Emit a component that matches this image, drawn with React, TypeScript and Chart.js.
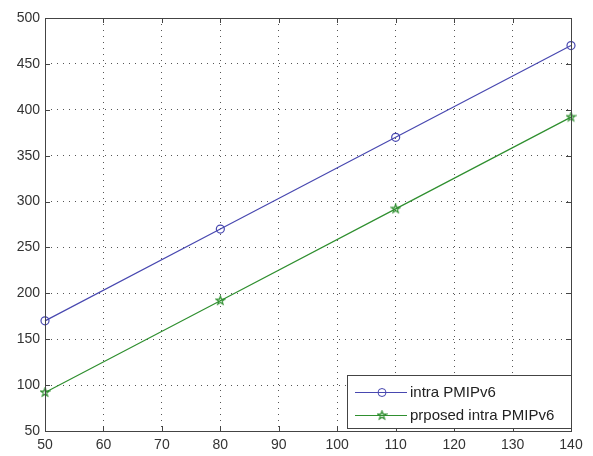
import React, { useEffect, useRef } from "react";
import { Chart, registerables } from "chart.js";

Chart.register(...registerables);

const xValues = [50, 80, 110, 140];
const intraPMIPv6 = [170, 270, 370, 470];
const proposedIntraPMIPv6 = [92, 192, 292, 392];
const seriesLabels = ["intra PMIPv6", "prposed intra PMIPv6"];
const blue = "#4848b0";
const green = "#2f8f2f";
const FONT = "Liberation Sans, Arial, sans-serif";

function makeStar(color: string, size: number): HTMLCanvasElement {
  const c = document.createElement("canvas");
  c.width = size;
  c.height = size;
  const ctx = c.getContext("2d")!;
  const cx = size / 2, cy = size / 2;
  const R = size / 2 - 1, r = R * 0.4;
  ctx.beginPath();
  for (let i = 0; i < 10; i++) {
    const ang = -Math.PI / 2 + (i * Math.PI) / 5;
    const rad = i % 2 === 0 ? R : r;
    const px = cx + rad * Math.cos(ang), py = cy + rad * Math.sin(ang);
    if (i === 0) ctx.moveTo(px, py);
    else ctx.lineTo(px, py);
  }
  ctx.closePath();
  ctx.strokeStyle = color;
  ctx.lineWidth = 1.2;
  ctx.stroke();
  return c;
}

export default function App() {
  const ref = useRef<HTMLCanvasElement | null>(null);
  useEffect(() => {
    const star = makeStar(green, 11);
    const framePlugin = {
      id: "frame",
      afterDraw(chart: any) {
        const { ctx, chartArea: a, scales } = chart;
        ctx.save();
        ctx.strokeStyle = "#444";
        ctx.lineWidth = 1;
        ctx.setLineDash([]);
        ctx.strokeRect(Math.round(a.left) + 0.5, Math.round(a.top) + 0.5, Math.round(a.right - a.left), Math.round(a.bottom - a.top));
        const tl = 5;
        ctx.beginPath();
        scales.x.ticks.forEach((t: any) => {
          const x = Math.round(scales.x.getPixelForValue(t.value)) + 0.5;
          ctx.moveTo(x, a.bottom); ctx.lineTo(x, a.bottom - tl);
          ctx.moveTo(x, a.top); ctx.lineTo(x, a.top + tl);
        });
        scales.y.ticks.forEach((t: any) => {
          const y = Math.round(scales.y.getPixelForValue(t.value)) + 0.5;
          ctx.moveTo(a.left, y); ctx.lineTo(a.left + tl, y);
          ctx.moveTo(a.right, y); ctx.lineTo(a.right - tl, y);
        });
        ctx.stroke();
        // legend
        const lx = 347, ly = 375, lw = a.right - 347, lh = 53;
        ctx.fillStyle = "#fff";
        ctx.fillRect(lx, ly, lw, lh);
        ctx.strokeStyle = "#444";
        ctx.strokeRect(lx + 0.5, ly + 0.5, lw, lh);
        ctx.font = `15px ${FONT}`;
        ctx.textBaseline = "middle";
        const rows = [392, 415];
        chart.data.datasets.forEach((ds: any, i: number) => {
          const y = rows[i];
          ctx.strokeStyle = ds.borderColor;
          ctx.lineWidth = 1;
          ctx.beginPath();
          ctx.moveTo(355, y + 0.5);
          ctx.lineTo(407, y + 0.5);
          ctx.stroke();
          if (i === 0) {
            ctx.beginPath();
            ctx.arc(382, y + 0.5, 4, 0, Math.PI * 2);
            ctx.stroke();
          } else {
            ctx.drawImage(star, 382 - 5.5, y - 5);
          }
          ctx.fillStyle = "#222";
          ctx.fillText(ds.label, 410, y + 1);
        });
        ctx.restore();
      },
    };
    const chart = new Chart(ref.current!, {
      type: "scatter",
      data: {
        datasets: [
          {
            label: seriesLabels[0],
            data: xValues.map((x, i) => ({ x, y: intraPMIPv6[i] })),
            showLine: true,
            borderColor: blue,
            borderWidth: 1.2,
            backgroundColor: "rgba(0,0,0,0)",
            pointStyle: "circle",
            pointRadius: 4,
            pointBorderColor: blue,
            pointBorderWidth: 1.2,
            clip: false as any,
          },
          {
            label: seriesLabels[1],
            data: xValues.map((x, i) => ({ x, y: proposedIntraPMIPv6[i] })),
            showLine: true,
            borderColor: green,
            borderWidth: 1.2,
            backgroundColor: "rgba(0,0,0,0)",
            pointStyle: star as any,
            pointRadius: 5,
            clip: false as any,
          },
        ],
      },
      options: {
        responsive: false,
        animation: false,
        layout: { padding: { top: 18, right: 22, left: 0, bottom: 0 } },
        plugins: { legend: { display: false }, tooltip: { enabled: false } },
        scales: {
          x: {
            type: "linear",
            min: 50,
            max: 140,
            ticks: { stepSize: 10, color: "#333", font: { family: FONT, size: 14 }, padding: 6, maxRotation: 0 },
            grid: { color: "#555", lineWidth: 1, drawTicks: false },
            border: { display: false, dash: [1, 5] },
            afterFit: (s: any) => { s.height = 25; },
          },
          y: {
            type: "linear",
            min: 50,
            max: 500,
            ticks: { stepSize: 50, color: "#333", font: { family: FONT, size: 14 }, padding: 5 },
            grid: { color: "#555", lineWidth: 1, drawTicks: false },
            border: { display: false, dash: [1, 5] },
            afterFit: (s: any) => { s.width = 45; },
          },
        },
      },
      plugins: [framePlugin],
    });
    return () => chart.destroy();
  }, []);
  return (
    <div style={{ position: "fixed", left: 0, top: 0, width: 593, height: 456, background: "#fff" }}>
      <canvas ref={ref} width={593} height={456} />
    </div>
  );
}
